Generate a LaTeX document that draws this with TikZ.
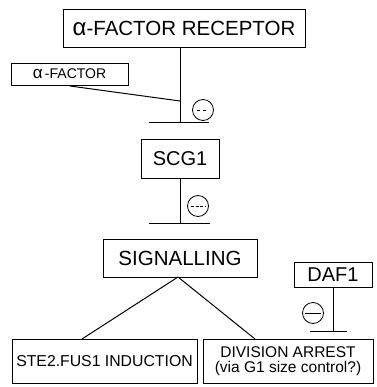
\documentclass[tikz,border=0pt]{standalone}
\usepackage{fontspec}
\setmainfont{Liberation Sans}
\begin{document}
\begin{tikzpicture}[x=1pt,y=-1pt,
  box/.style={draw,line width=0.8pt,inner sep=0pt,rectangle},
  link/.style={line width=1pt},
  inhib/.style={draw,circle,line width=0.8pt,minimum size=21pt,inner sep=0pt}]
\useasboundingbox (0,0) rectangle (376,387);
% boxes
\node[box,minimum width=242pt,minimum height=38pt,font=\fontsize{20.5}{22}\selectfont] (rec) at (184,28) {{\fontsize{24}{24}\selectfont α}-FACTOR RECEPTOR};
\node[box,minimum width=117pt,minimum height=22pt,font=\fontsize{14}{15}\selectfont] (af) at (69.5,74) {{\fontsize{17}{17}\selectfont α}\,-FACTOR};
\node[box,minimum width=78pt,minimum height=39pt,font=\fontsize{20}{22}\selectfont] (scg) at (180,158.5) {SCG1};
\node[box,minimum width=154pt,minimum height=38pt,font=\fontsize{20.5}{22}\selectfont] (sig) at (180,258) {SIGNALLING};
\node[box,minimum width=78pt,minimum height=25pt,font=\fontsize{20}{22}\selectfont] (daf) at (333,274.5) {DAF1};
\node[box,minimum width=185pt,minimum height=44pt,font=\fontsize{15.8}{17}\selectfont] (ste) at (104.5,361) {STE2.FUS1 INDUCTION};
\node[box,minimum width=170pt,minimum height=44pt,align=center,font=\fontsize{15.5}{15}\selectfont] (div) at (288,361) {DIVISION ARREST\\(via G1 size control?)};
% coordinates
\coordinate (recb) at (180,47);
\coordinate (j1) at (180,101);
\coordinate (b1) at (180,123);
\coordinate (b1l) at (149,123);
\coordinate (b1r) at (209,123);
\coordinate (afb) at (70,86);
\coordinate (scgb) at (180,178);
\coordinate (b2) at (180,223);
\coordinate (b2l) at (149,223);
\coordinate (b2r) at (210,223);
\coordinate (apex) at (178,277);
\coordinate (stet) at (82,339);
\coordinate (divt) at (255,339);
\coordinate (dafb) at (333,287);
\coordinate (b3) at (333,331);
\coordinate (b3l) at (310,331);
\coordinate (b3r) at (347,331);
% connectors
\draw[link] (recb) -- (b1);
\draw[link] (b1l) -- (b1r);
\draw[link] (afb) -- (j1);
\draw[link] (scgb) -- (b2);
\draw[link] (b2l) -- (b2r);
\draw[link] (apex) -- (stet);
\draw[link] (apex) -- (divt);
\draw[link] (dafb) -- (b3);
\draw[link] (b3l) -- (b3r);
% inhibition circles
\node[inhib] (c1) at (203,110) {};
\node[inhib] (c2) at (198,206) {};
\node[inhib] (c3) at (313,313) {};
\draw[line width=0.5pt,dashed] ([xshift=-6pt]c1.center) -- ([xshift=6pt]c1.center);
\draw[line width=0.5pt,dash pattern=on 3pt off 1.5pt] ([xshift=-7pt]c2.center) -- ([xshift=7pt]c2.center);
\draw[line width=0.6pt] ([xshift=-8pt]c3.center) -- ([xshift=8pt]c3.center);
\end{tikzpicture}
\end{document}
